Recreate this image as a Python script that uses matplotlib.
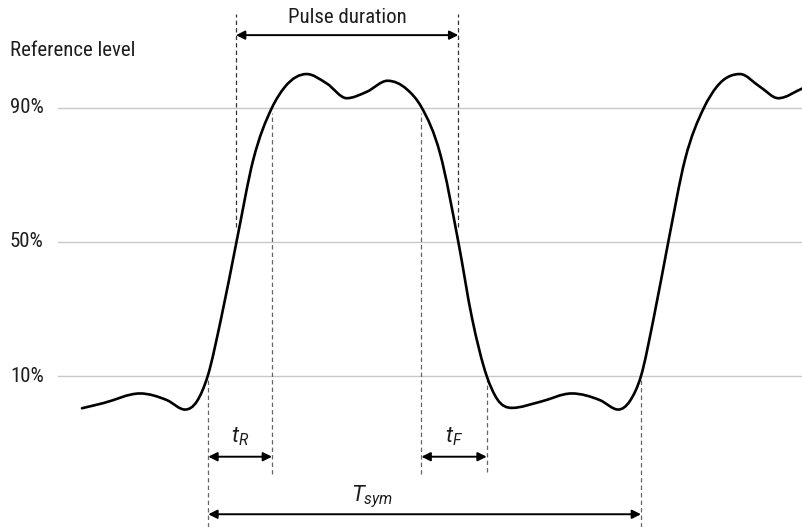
import numpy as np
import matplotlib
matplotlib.use("Agg")
import matplotlib.pyplot as plt
from matplotlib.path import Path
from matplotlib.patches import PathPatch

# ---- data (time in arbitrary units, level in % of reference) ----
t = [82, 103, 140, 167, 185, 197, 207.7, 221, 236.5, 253.3, 271.7, 285, 306.7,
     326.7, 346.7, 366.7, 387.5, 406.7, 421.7, 440, 458.3, 472, 486.7, 497, 512,
     540, 571.7, 600, 618.3, 630, 641, 653.5, 668.3, 685, 704, 717, 740, 760,
     778.3, 803]
level = [0.4, 1.9, 4.8, 2.8, 0.0, 2.5, 10, 27, 50, 74.5, 89.8, 96.2, 100,
         97.2, 92.8, 94.7, 98, 95.5, 90, 76.4, 50, 27.3, 10, 3.2, 0.5,
         2.3, 4.8, 2.8, 0.0, 2.6, 10, 27, 50, 74.5, 90, 96.3, 100, 96.2,
         92.8, 95.8]
grid_levels = [10, 50, 90]
grid_labels = ["10%", "50%", "90%"]
t10_rise, t50_rise, t90_rise = 208.3, 236.0, 272.0
t90_fall, t50_fall, t10_fall = 421.5, 458.3, 486.7
t10_rise2 = 641.0

# ---- figure ----
plt.rcParams['font.family'] = ['Roboto Condensed', 'Roboto', 'DejaVu Sans']
plt.rcParams['mathtext.fontset'] = 'custom'
plt.rcParams['mathtext.it'] = 'Roboto:italic'
plt.rcParams['mathtext.rm'] = 'Roboto'

fig = plt.figure(figsize=(8.03, 5.27), dpi=100)
ax = fig.add_axes([0, 0, 1, 1])
ax.set_xlim(0, 803)
ax.set_ylim(-35.0, 122.07)
ax.axis('off')

FS = 15
TXT = '#1e1e1e'
# grid lines and labels
for lv, lab in zip(grid_levels, grid_labels):
    ax.plot([58, 803], [lv, lv], color='#c8c8c8', lw=1.0, zorder=1)
    ax.text(10, lv, lab, ha='left', va='center', fontsize=FS, color=TXT)
ax.text(10, 107.0, "Reference level", ha='left', va='center', fontsize=FS, color=TXT)

# smooth waveform: cubic Hermite through the points, drawn as a Bezier path
x = np.asarray(t, float)
y = np.asarray(level, float)
h = np.diff(x)
d = np.diff(y) / h
m = np.zeros_like(y)
for i in range(1, len(y) - 1):
    if d[i - 1] * d[i] <= 0:
        m[i] = 0.0
    else:
        mi = (h[i] * d[i - 1] + h[i - 1] * d[i]) / (h[i - 1] + h[i])
        lim = 3 * min(abs(d[i - 1]), abs(d[i]))
        m[i] = np.sign(mi) * min(abs(mi), lim)
m[0] = d[0]
m[-1] = d[-1]
verts = [(x[0], y[0])]
codes = [Path.MOVETO]
for i in range(len(x) - 1):
    verts += [(x[i] + h[i] / 3, y[i] + m[i] * h[i] / 3),
              (x[i + 1] - h[i] / 3, y[i + 1] - m[i + 1] * h[i] / 3),
              (x[i + 1], y[i + 1])]
    codes += [Path.CURVE4] * 3
ax.add_patch(PathPatch(Path(verts, codes), fill=False, lw=1.9, edgecolor='black',
                       capstyle='round', joinstyle='round', zorder=3))

# dashed markers
dash = dict(ls=(0, (3.5, 2.5)), lw=0.9, zorder=2)
ax.plot([t50_rise, t50_rise], [54.4, 117.9], color='#333333', **dash)
ax.plot([t50_fall, t50_fall], [54.4, 117.9], color='#333333', **dash)
ax.plot([t90_rise, t90_rise], [-19.2, 88.4], color='#666666', **dash)
ax.plot([t90_fall, t90_fall], [-19.2, 88.4], color='#666666', **dash)
ax.plot([t10_rise, t10_rise], [-35, 8.8], color='#666666', **dash)
ax.plot([t10_fall, t10_fall], [-18.6, 8.8], color='#666666', **dash)
ax.plot([t10_rise2, t10_rise2], [-35, 8.8], color='#666666', **dash)

# arrows
def darrow(x1, x2, yy):
    ax.annotate('', xy=(x2, yy), xytext=(x1, yy),
                arrowprops=dict(arrowstyle='<|-|>', color='black', lw=1.4,
                                mutation_scale=13, shrinkA=0, shrinkB=0), zorder=4)

darrow(t50_rise, t50_fall, 111.6)
ax.text((t50_rise + t50_fall) / 2, 117.0, "Pulse duration", ha='center', va='center',
        fontsize=FS, color=TXT)
darrow(t10_rise, t90_rise, -14.05)
ax.text((t10_rise + t90_rise) / 2, -8.0, r"$t_R$", ha='center', va='center', fontsize=16, color=TXT)
darrow(t90_fall, t10_fall, -14.05)
ax.text((t90_fall + t10_fall) / 2, -8.0, r"$t_F$", ha='center', va='center', fontsize=16, color=TXT)
darrow(t10_rise, t10_rise2, -31.2)
ax.text(372, -26.0, r"$T_{sym}$", ha='center', va='center', fontsize=16, color=TXT)

fig.savefig("out.png", dpi=100)
